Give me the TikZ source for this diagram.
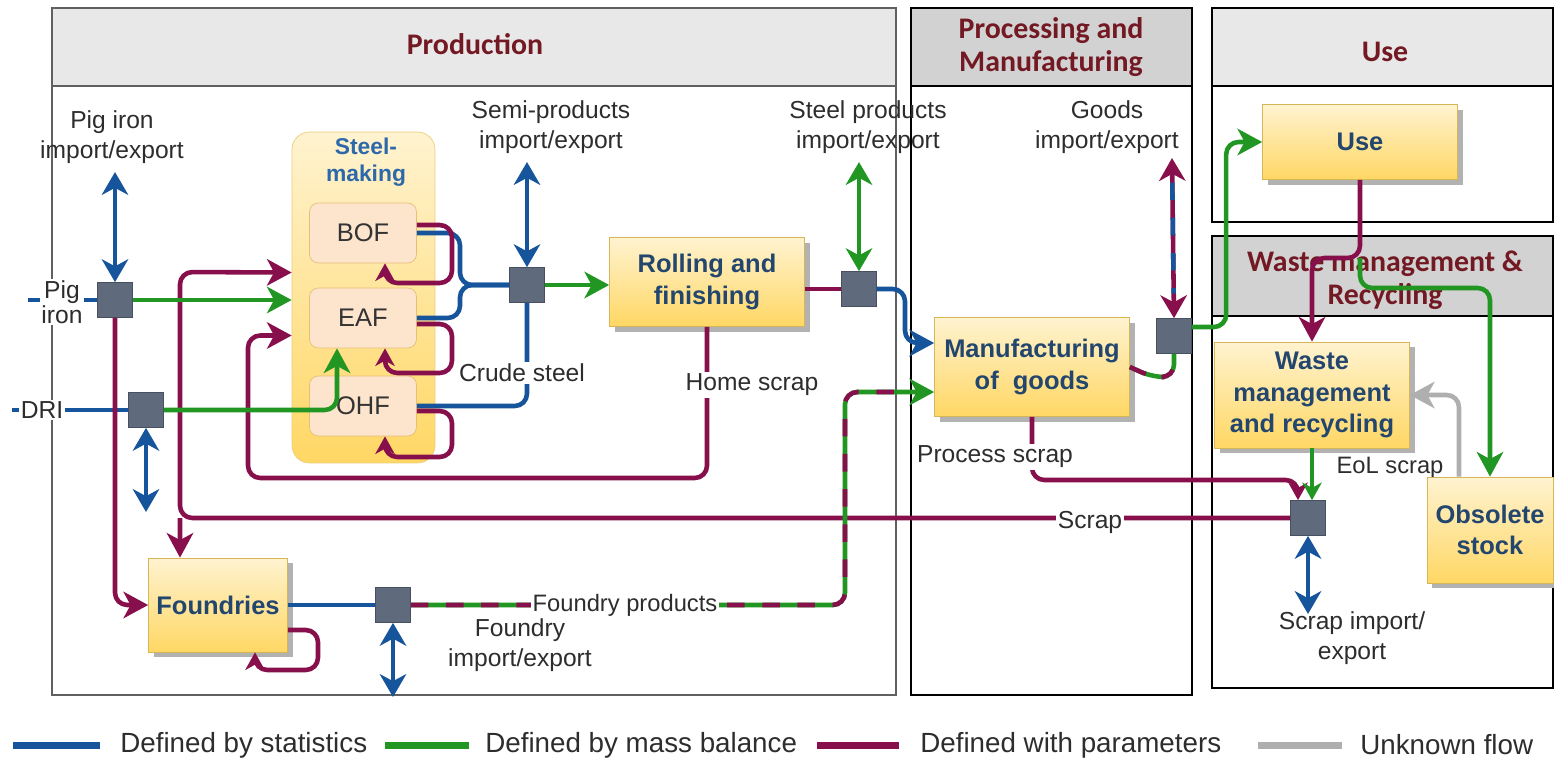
\documentclass[tikz,border=0pt]{standalone}
\usepackage{fontspec}
\setmainfont{Liberation Sans}
\newfontfamily\headfont{Carlito}
\usetikzlibrary{arrows.meta,shadows,positioning}

\definecolor{statblue}{RGB}{22,84,155}
\definecolor{massgreen}{RGB}{34,150,34}
\definecolor{parampurple}{RGB}{135,15,75}
\definecolor{unkgray}{RGB}{175,175,175}
\definecolor{headred}{RGB}{115,25,35}
\definecolor{boxtext}{RGB}{35,70,110}
\definecolor{smtext}{RGB}{45,105,170}
\definecolor{labelgray}{RGB}{45,45,45}
\definecolor{juncfill}{RGB}{95,107,125}
\definecolor{juncedge}{RGB}{70,80,95}
\definecolor{lightband}{RGB}{232,232,232}
\definecolor{darkband}{RGB}{210,210,210}
\definecolor{boxtop}{RGB}{255,243,208}
\definecolor{boxbot}{RGB}{255,215,100}
\definecolor{boxedge}{RGB}{214,182,86}
\definecolor{smedge}{RGB}{235,205,120}
\definecolor{furnfill}{RGB}{252,228,205}
\definecolor{furnedge}{RGB}{230,190,120}

\tikzset{
  stage/.style={draw=black, line width=1.1pt},
  prodstage/.style={draw=gray!75!black, line width=1.4pt},
  headtext/.style={font=\headfont\bfseries\fontsize{17}{19}\selectfont, text=headred, align=center},
  flowtext/.style={font=\fontsize{14}{17}\selectfont, text=labelgray, align=center, inner sep=1pt},
  cuttext/.style={flowtext, fill=white},
  procbox/.style={draw=boxedge, top color=boxtop, bottom color=boxbot,
    drop shadow={shadow xshift=3pt, shadow yshift=-3pt, fill=black!30, opacity=1},
    font=\bfseries\fontsize{14.5}{18}\selectfont, text=boxtext, align=center, inner sep=2pt},
  furnace/.style={draw=furnedge, fill=furnfill, rounded corners=5pt, minimum width=2.14cm,
    minimum height=1.2cm, font=\fontsize{14.5}{17}\selectfont, text=black!80},
  junction/.style={draw=juncedge, fill=juncfill, minimum size=0.7cm, inner sep=0pt},
  flowline/.style={line width=2.6pt, rounded corners=7pt},
  statflow/.style={flowline, draw=statblue},
  massflow/.style={flowline, draw=massgreen},
  paramflow/.style={flowline, draw=parampurple},
  unknownflow/.style={flowline, draw=unkgray},
  flowtip/.style={-{Stealth[length=14pt,width=15pt,inset=4pt]}},
  bothtips/.style={{Stealth[length=13pt,width=15pt,inset=4pt]}-{Stealth[length=13pt,width=15pt,inset=4pt]}},
  looptip/.style={-{Stealth[length=10pt,width=11pt,inset=3pt]}},
  mixdash/.style={dash pattern=on 10pt off 10pt},
  legendline/.style={line width=4pt},
  legendtext/.style={font=\fontsize{15.8}{18}\selectfont, text=labelgray, anchor=west, inner sep=0pt},
}

\begin{document}
\begin{tikzpicture}[x=0.02cm,y=-0.02cm]
\useasboundingbox (0,0) rectangle (1554,765);

% Stages
\fill[lightband] (52,8) rectangle (896,86);
\draw[prodstage] (52,8) rectangle (896,695);
\draw[prodstage] (52,86) -- (896,86);
\fill[darkband] (911,8) rectangle (1192,86);
\draw[stage] (911,8) rectangle (1192,695);
\draw[stage] (911,86) -- (1192,86);
\fill[lightband] (1212,8) rectangle (1553,86);
\draw[stage] (1212,8) rectangle (1553,222);
\draw[stage] (1212,86) -- (1553,86);
\fill[darkband] (1212,236) rectangle (1553,316);
\draw[stage] (1212,236) rectangle (1553,688);
\draw[stage] (1212,316) -- (1553,316);

\node[headtext] (prodhead) at (475,44) {Production};
\node[headtext] (prochead) at (1051,47) {Processing and\\Manufacturing};
\node[headtext] (usehead) at (1385,52) {Use};
\node[headtext] (wastehead) at (1385,280) {Waste management \&\\Recycling};

% Steelmaking
\node[draw=smedge, top color=boxtop, bottom color=boxbot, rounded corners=10pt,
  minimum width=2.86cm, minimum height=6.62cm] (sm) at (363.5,297.5) {};
\node[font=\bfseries\fontsize{13}{15}\selectfont, text=smtext, align=center] (smtitle) at (366,162) {Steel-\\making};
\node[furnace] (bof) at (363,233) {BOF};
\node[furnace] (eaf) at (363,318) {EAF};
\node[furnace] (ohf) at (363,406) {OHF};

% Processes
\node[procbox, minimum width=3.9cm, minimum height=1.78cm] (rolling) at (707,282) {Rolling and\\finishing};
\node[procbox, minimum width=2.78cm, minimum height=1.88cm] (foundries) at (218,605) {Foundries};
\node[procbox, minimum width=3.9cm, minimum height=1.98cm] (manuf) at (1032,367) {Manufacturing\\of\ \ goods};
\node[procbox, minimum width=3.9cm, minimum height=1.5cm] (use) at (1360,142) {Use};
\node[procbox, minimum width=3.9cm, minimum height=2.12cm] (waste) at (1312,395) {Waste\\management\\and recycling};
\node[flowtext, font=\fontsize{13.5}{16}\selectfont] (eol) at (1390,468) {EoL scrap};
\node[procbox, minimum width=2.52cm, minimum height=2.12cm] (obsolete) at (1490,530) {Obsolete\\stock};

% Junctions
\node[junction] (pigj) at (115,300) {};
\node[junction] (drij) at (146,410) {};
\node[junction] (semij) at (527,285) {};
\node[junction] (steelj) at (859,289) {};
\node[junction] (foundj) at (393,605) {};
\node[junction] (goodsj) at (1174,336) {};
\node[junction] (scrapj) at (1308,518) {};

% Free ends and bends
\coordinate (pigin) at (28,300);
\coordinate (driin) at (12,410);
\coordinate (pigtop) at (115,172);
\coordinate (dribot) at (146,512);
\coordinate (semitop) at (527,162);
\coordinate (steeltop) at (859,162);
\coordinate (goodstop) at (1172,158);
\coordinate (foundbot) at (393,697);
\coordinate (scrapbot) at (1308,614);
\coordinate (crudemerge) at (460,285);
\coordinate (scrapup) at (180,272);
\coordinate (homeleft) at (248,478);
\coordinate (steeldown) at (905,343);
\coordinate (fpturn) at (845,392);
\coordinate (mgbend) at (1152,377);
\coordinate (usesplit) at (1360,258);
\coordinate (obsbend) at (1490,288);
\coordinate (psturn) at (1298,480);
\coordinate (fdloop) at (318,670);
\coordinate (bofloop) at (452,283);
\coordinate (eafloop) at (452,373);
\coordinate (ohfloop) at (452,457);

% Defined by statistics
\draw[statflow] (pigin) -- (pigj.west);
\draw[statflow] (driin) -- (drij.west);
\draw[statflow,bothtips] (pigtop) -- (pigj.north);
\draw[statflow,bothtips] (drij.south) -- (dribot);
\draw[statflow] (bof.east) -| (crudemerge) -- (semij.west);
\draw[statflow] (eaf.east) -| (crudemerge) -- (semij.west);
\draw[statflow] (ohf.east) -| (semij.south);
\draw[statflow,bothtips] (semitop) -- (semij.north);
\draw[statflow,flowtip] (steelj.east) -| (steeldown) -- ([yshift=0.48cm]manuf.west);
\draw[statflow] (foundries.east) -- (foundj.west);
\draw[statflow,bothtips] (foundj.south) -- (foundbot);
\draw[statflow,bothtips] (scrapj.south) -- (scrapbot);

% Defined with parameters
\draw[paramflow,flowtip] (pigj.south) |- (foundries.west);
\draw[paramflow,flowtip] (scrapj.west) -| (scrapup) -- ([yshift=0.5cm]sm.west);
\draw[paramflow,flowtip] (scrapup |- scrapj) -- ([xshift=-0.76cm]foundries.north);
\draw[paramflow,flowtip] (rolling.south) |- (homeleft) |- ([yshift=-0.76cm]sm.west);
\draw[paramflow,looptip] ([yshift=0.16cm]bof.east) -| (bofloop) -| ([xshift=0.44cm]bof.south);
\draw[paramflow,looptip] ([yshift=-0.12cm]eaf.east) -| (eafloop) -| ([xshift=0.44cm]eaf.south);
\draw[paramflow,looptip] ([yshift=-0.1cm]ohf.east) -| (ohfloop) -| ([xshift=0.44cm]ohf.south);
\draw[paramflow,looptip] ([yshift=-0.5cm]foundries.east) -| (fdloop) -| ([xshift=0.74cm]foundries.south);
\draw[paramflow] (rolling.east |- steelj) -- (steelj.west);
\draw[paramflow,bothtips] (goodstop) -- (goodsj.north);
\draw[statflow,mixdash,shorten <=14pt,shorten >=14pt] (goodstop) -- (goodsj.north);
\draw[paramflow,flowtip] (use.south) -- (usesplit) -| (waste.north);
\draw[paramflow,looptip] (manuf.south) |- (psturn) -- ([xshift=-0.2cm]scrapj.north);

% Defined by mass balance
\draw[massflow,flowtip] (pigj.east) -- (pigj.east -| sm.west);
\draw[massflow,flowtip] (drij.east) -| ([xshift=-0.52cm]eaf.south);
\draw[massflow,flowtip] (semij.east) -- (semij.east -| rolling.west);
\draw[massflow,bothtips] (steeltop) -- (steelj.north);
\draw[massflow,flowtip] (foundj.east) -| (fpturn) -- ([yshift=-0.5cm]manuf.west);
\draw[paramflow,mixdash,shorten >=14pt] (foundj.east) -| (fpturn) -- ([yshift=-0.5cm]manuf.west);
\draw[massflow] (manuf.east) -- (mgbend) -| (goodsj.south);
\draw[paramflow,mixdash] (manuf.east) -- (mgbend) -| (goodsj.south);
\draw[massflow,flowtip] ([yshift=0.18cm]goodsj.east) -| ([xshift=-0.72cm]use.west) -- (use.west);
\draw[massflow,flowtip] (usesplit) |- (obsbend) -- (obsolete.north);
\draw[massflow,looptip] (waste.south) -- (waste.south |- scrapj.north);

% Unknown flow
\draw[unknownflow,flowtip] ([xshift=-0.62cm]obsolete.north) |- (waste.east);

% Flow labels
\node[cuttext, font=\fontsize{14}{14}\selectfont] (piglabel) at (62,302) {Pig\\iron};
\node[cuttext] (drilabel) at (42,410) {DRI};
\node[flowtext] (pigimp) at (112,137) {Pig iron\\import/export};
\node[flowtext] (semiimp) at (551,127) {Semi-products\\import/export};
\node[flowtext] (steelimp) at (868,127) {Steel products\\import/export};
\node[flowtext] (goodsimp) at (1107,127) {Goods\\import/export};
\node[cuttext] (crude) at (522,373) {Crude steel};
\node[cuttext] (home) at (752,385) {Home scrap};
\node[cuttext, font=\fontsize{13.5}{16}\selectfont] (fprod) at (625,605) {Foundry products};
\node[flowtext] (foundimp) at (520,645) {Foundry\\import/export};
\node[cuttext] (process) at (995,457) {Process scrap};
\node[cuttext] (scraptext) at (1090,522) {Scrap};
\node[flowtext] (scrapimp) at (1352,638) {Scrap import/\\export};

% Legend
\draw[legendline, statblue] (13,745) -- (100,745);
\node[legendtext] (legstat) at (120,745) {Defined by statistics};
\draw[legendline, massgreen] (385,745) -- (469,745);
\node[legendtext] (legmass) at (485,745) {Defined by mass balance};
\draw[legendline, parampurple] (817,745) -- (899,745);
\node[legendtext] (legparam) at (920,745) {Defined with parameters};
\draw[legendline, unkgray] (1258,745) -- (1342,745);
\node[legendtext] (legunk) at (1360,745) {Unknown flow};
\end{tikzpicture}
\end{document}
